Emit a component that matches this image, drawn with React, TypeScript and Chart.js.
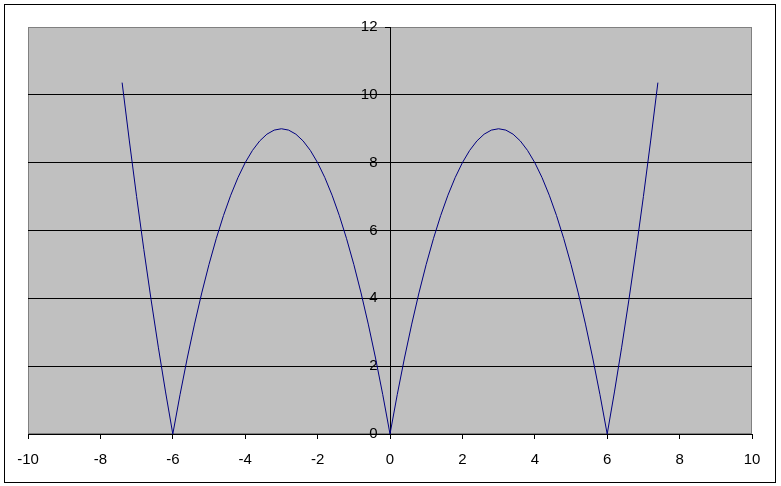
import React, { useEffect, useRef } from "react";
import { Chart, registerables } from "chart.js";

Chart.register(...registerables);

const xValues = [
  -7.4, -7.2, -7.0, -6.8, -6.6, -6.4, -6.2, -6.0, -5.8, -5.6, -5.4, -5.2, -5.0,
  -4.8, -4.6, -4.4, -4.2, -4.0, -3.8, -3.6, -3.4, -3.2, -3.0, -2.8, -2.6, -2.4,
  -2.2, -2.0, -1.8, -1.6, -1.4, -1.2, -1.0, -0.8, -0.6, -0.4, -0.2, 0.0,
  0.2, 0.4, 0.6, 0.8, 1.0, 1.2, 1.4, 1.6, 1.8, 2.0, 2.2, 2.4, 2.6, 2.8, 3.0,
  3.2, 3.4, 3.6, 3.8, 4.0, 4.2, 4.4, 4.6, 4.8, 5.0, 5.2, 5.4, 5.6, 5.8, 6.0,
  6.2, 6.4, 6.6, 6.8, 7.0, 7.2, 7.4,
];

const yValues = [
  10.36, 8.64, 7.0, 5.44, 3.96, 2.56, 1.24, 0.0, 1.16, 2.24, 3.24, 4.16, 5.0,
  5.76, 6.44, 7.04, 7.56, 8.0, 8.36, 8.64, 8.84, 8.96, 9.0, 8.96, 8.84, 8.64,
  8.36, 8.0, 7.56, 7.04, 6.44, 5.76, 5.0, 4.16, 3.24, 2.24, 1.16, 0.0,
  1.16, 2.24, 3.24, 4.16, 5.0, 5.76, 6.44, 7.04, 7.56, 8.0, 8.36, 8.64, 8.84, 8.96, 9.0,
  8.96, 8.84, 8.64, 8.36, 8.0, 7.56, 7.04, 6.44, 5.76, 5.0, 4.16, 3.24, 2.24, 1.16, 0.0,
  1.24, 2.56, 3.96, 5.44, 7.0, 8.64, 10.36,
];

const xTickMin = -10;
const xTickMax = 10;
const xTickStep = 2;
const yTickMin = 0;
const yTickMax = 12;
const yTickStep = 2;

const FONT = "'Liberation Sans', Arial, sans-serif";

const framePlugin = {
  id: "frame",
  beforeDraw(chart: any) {
    const { ctx, chartArea } = chart;
    ctx.save();
    ctx.fillStyle = "#ffffff";
    ctx.fillRect(0, 0, chart.width, chart.height);
    ctx.strokeStyle = "#000000";
    ctx.lineWidth = 1;
    ctx.strokeRect(4.5, 4.5, 771, 478);
    ctx.fillStyle = "#c0c0c0";
    ctx.fillRect(chartArea.left, chartArea.top, chartArea.right - chartArea.left, chartArea.bottom - chartArea.top);
    ctx.strokeStyle = "#808080";
    ctx.strokeRect(
      Math.round(chartArea.left) + 0.5,
      Math.round(chartArea.top) + 0.5,
      Math.round(chartArea.right - chartArea.left) - 1,
      Math.round(chartArea.bottom - chartArea.top) - 1
    );
    ctx.restore();
  },
};

export default function App() {
  const ref = useRef<HTMLCanvasElement | null>(null);

  useEffect(() => {
    if (!ref.current) return;
    const points = xValues.map((x, i) => ({ x, y: yValues[i] }));
    const chart = new Chart(ref.current, {
      type: "scatter",
      data: {
        datasets: [
          {
            data: points,
            showLine: true,
            borderColor: "#000080",
            borderWidth: 1,
            pointRadius: 0,
            pointHoverRadius: 0,
            tension: 0,
          },
        ],
      },
      options: {
        responsive: false,
        animation: false,
        devicePixelRatio: 1,
        layout: { padding: { left: 28, top: 27, right: 29, bottom: 0 } },
        plugins: { legend: { display: false }, tooltip: { enabled: false } },
        scales: {
          x: {
            type: "linear",
            position: "bottom",
            min: xTickMin,
            max: xTickMax,
            afterFit: (scale: any) => {
              scale.height = 52;
            },
            ticks: {
              stepSize: xTickStep,
              color: "#000000",
              padding: 12,
              maxRotation: 0,
              font: { family: FONT, size: 15 },
            },
            grid: {
              display: true,
              drawOnChartArea: false,
              drawTicks: true,
              tickLength: 5,
              tickColor: "#000000",
              color: "#000000",
            },
            border: { display: true, color: "#000000", width: 1 },
          },
          y: {
            type: "linear",
            position: { x: 0 },
            min: yTickMin,
            max: yTickMax,
            ticks: {
              stepSize: yTickStep,
              color: "#000000",
              padding: 9,
              font: { family: FONT, size: 15 },
              callback: (v: any) => String(v) + "   ",
            },
            grid: {
              display: true,
              drawOnChartArea: true,
              drawTicks: true,
              tickLength: 5,
              tickColor: "#000000",
              color: (ctx: any) =>
                ctx.tick && ctx.tick.value === yTickMax ? "rgba(0,0,0,0)" : "#000000",
            },
            border: { display: true, color: "#000000", width: 1 },
          },
        },
      },
      plugins: [framePlugin],
    });
    return () => chart.destroy();
  }, []);

  return (
    <div style={{ position: "fixed", left: 0, top: 0, width: 781, height: 486, background: "#fff" }}>
      <canvas ref={ref} width={781} height={486} style={{ display: "block" }} />
    </div>
  );
}
